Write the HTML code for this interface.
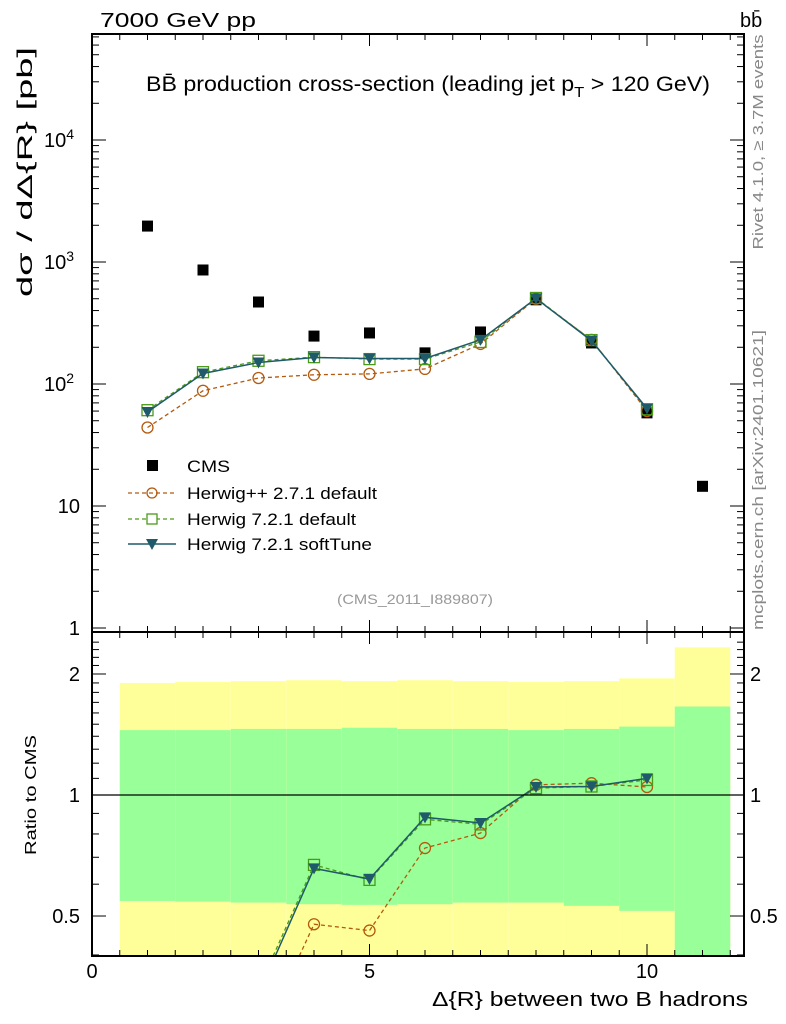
<!DOCTYPE html>
<html><head><meta charset="utf-8"><style>
html,body{margin:0;background:#fff;width:786px;height:1024px;overflow:hidden;}
svg{display:block;font-family:"Liberation Sans",sans-serif;}
</style></head><body>
<svg id="c" width="786" height="1024" viewBox="0 0 786 1024">
<g id="bands"></g><g id="ratioMarks"></g><g id="mainMarks"></g><g id="axes"></g>
<text x="100" y="27" font-size="20" textLength="156" lengthAdjust="spacingAndGlyphs">7000 GeV pp</text>
<text x="740" y="27" font-size="20">bb̄</text>
<text x="146" y="91" font-size="21" textLength="564" lengthAdjust="spacingAndGlyphs">BB̄ production cross-section (leading jet p<tspan font-size="15" dy="6">T</tspan><tspan dy="-6"> &gt; 120 GeV)</tspan></text>
<text transform="translate(32,172) rotate(-90)" font-size="21" text-anchor="middle" textLength="250" lengthAdjust="spacingAndGlyphs">dσ / dΔ{R} [pb]</text>
<text transform="translate(36,795) rotate(-90)" font-size="16" text-anchor="middle" textLength="120" lengthAdjust="spacingAndGlyphs">Ratio to CMS</text>
<text x="748" y="1006" font-size="20" text-anchor="end" textLength="316" lengthAdjust="spacingAndGlyphs">Δ{R} between two B hadrons</text>
<text transform="translate(763,142) rotate(-90)" font-size="15" fill="#888" text-anchor="middle" textLength="215" lengthAdjust="spacingAndGlyphs">Rivet 4.1.0, ≥ 3.7M events</text>
<text transform="translate(763,480) rotate(-90)" font-size="15" fill="#888" text-anchor="middle" textLength="300" lengthAdjust="spacingAndGlyphs">mcplots.cern.ch [arXiv:2401.10621]</text>
<text x="415" y="604" font-size="14" fill="#999" text-anchor="middle" textLength="156" lengthAdjust="spacingAndGlyphs">(CMS_2011_I889807)</text>
<g font-size="17">
 <rect x="147" y="460" width="11" height="11" fill="#000"/>
 <text x="187" y="472" textLength="43" lengthAdjust="spacingAndGlyphs">CMS</text>
 <line x1="128" y1="493" x2="176" y2="493" stroke="#b35a0e" stroke-width="1.3" stroke-dasharray="4,3"/>
 <circle cx="152" cy="493" r="5" fill="none" stroke="#b35a0e" stroke-width="1.3"/>
 <text x="187" y="499" textLength="190" lengthAdjust="spacingAndGlyphs">Herwig++ 2.7.1 default</text>
 <line x1="128" y1="519" x2="176" y2="519" stroke="#4a9a1a" stroke-width="1.3" stroke-dasharray="4,3"/>
 <rect x="147" y="514" width="10" height="10" fill="#fff" stroke="#4a9a1a" stroke-width="1.3"/>
 <text x="187" y="525" textLength="169" lengthAdjust="spacingAndGlyphs">Herwig 7.2.1 default</text>
 <line x1="128" y1="544" x2="176" y2="544" stroke="#1e5a6a" stroke-width="1.5"/>
 <path d="M146,539 L158,539 L152,550 Z" fill="#1e5a6a"/>
 <text x="187" y="550" textLength="185" lengthAdjust="spacingAndGlyphs">Herwig 7.2.1 softTune</text>
</g>
</svg>
<script>
const xs=[1,2,3,4,5,6,7,8,9,10,11];
const cms=[1970,860,470,247,262,180,267,490,217,58,14.5];
const hpp=[44,88,112,119,121,133,213,500,230,60];
const h7d=[61,125,155,166,160,160,221,507,229,62];
const h7s=[59,122,150,165,162,162,230,503,226,63];
const rHpp=[0.022,0.10,0.24,0.477,0.46,0.738,0.804,1.06,1.07,1.047];
const rH7d=[0.031,0.145,0.33,0.67,0.615,0.87,0.845,1.04,1.05,1.09];
const rH7s=[0.030,0.142,0.32,0.657,0.618,0.88,0.852,1.047,1.05,1.10];
const bandLo=[0.5,1.5,2.5,3.5,4.5,5.5,6.5,7.5,8.5,9.5,10.5];
const bandHi=[1.5,2.5,3.5,4.5,5.5,6.5,7.5,8.5,9.5,10.5,11.5];
const yelTop=[1.90,1.91,1.92,1.93,1.92,1.93,1.92,1.91,1.92,1.95,2.33];
const grnTop=[1.45,1.45,1.46,1.46,1.47,1.46,1.46,1.45,1.46,1.48,1.66];
const grnBot=[0.545,0.543,0.540,0.535,0.533,0.535,0.540,0.540,0.530,0.515,0.3];
const yelBot=[0.3,0.3,0.3,0.3,0.3,0.3,0.3,0.3,0.3,0.3,0.3];
const NS="http://www.w3.org/2000/svg";
const L=92,R=744,T=34,MB=632,RB=956;
const X=v=>L+v*55.5;
const Y=v=>262-(Math.log10(v)-3)*122;
const YRraw=v=>795-402*Math.log10(v);
const YR=v=>Math.min(RB,Math.max(MB,YRraw(v)));
function mk(p,t,a){const e=document.createElementNS(NS,t);for(const k in a)e.setAttribute(k,a[k]);p.appendChild(e);return e;}
const bands=document.getElementById('bands'),rm=document.getElementById('ratioMarks'),mm=document.getElementById('mainMarks'),ax=document.getElementById('axes');
bandLo.forEach((lo,i)=>{
 const y=mk(bands,'rect',{x:X(lo),y:YR(yelTop[i]),width:X(bandHi[i])-X(lo),height:YR(yelBot[i])-YR(yelTop[i]),fill:'#ffff99'});
 
 
 const g=mk(bands,'rect',{x:X(lo),y:YR(grnTop[i]),width:X(bandHi[i])-X(lo),height:YR(grnBot[i])-YR(grnTop[i]),fill:'#99ff99'});
 
 
});
mk(ax,'line',{x1:L,y1:795,x2:R,y2:795,stroke:'#000','stroke-width':1.3});
function clipPts(pts,lim){
 const out=[];
 for(let i=0;i<pts.length;i++){
  const p=pts[i],inside=p[1]<=lim;
  if(i>0){const q=pts[i-1],qin=q[1]<=lim;
   if(inside!==qin){const t=(lim-q[1])/(p[1]-q[1]);out.push([q[0]+t*(p[0]-q[0]),lim]);}}
  if(inside)out.push(p);
 }
 return out;
}
function series(par,vals,yf,col,dash,marker,w,lim){
 const pts=vals.map((v,i)=>[X(xs[i]),yf(v)]);
 const g=mk(par,'g',{});
 const lp=lim?clipPts(pts,lim):pts;
 const pl=mk(g,'polyline',{points:lp.map(p=>p.join(',')).join(' '),fill:'none',stroke:col,'stroke-width':w});
 if(dash)pl.setAttribute('stroke-dasharray',dash);
 
 
 pts.forEach(p=>{if(lim&&p[1]>lim)return;let m;
  if(marker==='c')m=mk(g,'circle',{cx:p[0],cy:p[1],r:5.5,fill:'none',stroke:col,'stroke-width':1.3});
  else if(marker==='s')m=mk(g,'rect',{x:p[0]-5.5,y:p[1]-5.5,width:11,height:11,fill:'none',stroke:col,'stroke-width':1.3});
  else m=mk(g,'path',{d:`M${p[0]-6},${p[1]-5} L${p[0]+6},${p[1]-5} L${p[0]},${p[1]+6} Z`,fill:col});
  
  
 });
}
cms.forEach((v,i)=>{const r=mk(mm,'rect',{x:X(xs[i])-5.5,y:Y(v)-5.5,width:11,height:11,fill:'#000'});
 
 });
series(mm,hpp,Y,'#b35a0e','4,3','c',1.3,0);
series(mm,h7d,Y,'#4a9a1a','4,3','s',1.3,0);
series(mm,h7s,Y,'#1e5a6a',null,'t',1.5,0);
series(rm,rHpp,YRraw,'#b35a0e','4,3','c',1.3,RB);
series(rm,rH7d,YRraw,'#4a9a1a','4,3','s',1.3,RB);
series(rm,rH7s,YRraw,'#1e5a6a',null,'t',1.5,RB);
mk(ax,'rect',{x:L,y:T,width:R-L,height:MB-T,fill:'none',stroke:'#000','stroke-width':2});
mk(ax,'rect',{x:L,y:MB,width:R-L,height:RB-MB,fill:'none',stroke:'#000','stroke-width':2});
for(let v=0;v<=11.5;v+=0.5){const maj=v%5===0,len=maj?12:6;
 [[T,1],[MB,-1],[MB,1],[RB,-1]].forEach(([y,s])=>mk(ax,'line',{x1:X(v),y1:y,x2:X(v),y2:y+s*len,stroke:'#000','stroke-width':1}));}
const xTicks=[0,5,10];
xTicks.forEach(v=>{const t=mk(ax,'text',{x:X(v),y:978,'font-size':20,'text-anchor':'middle'});t.textContent=v;
 
 });
for(let d=0;d<5;d++)for(let k=1;k<10;k++){const v=k*Math.pow(10,d);const y=Y(v);if(y<T||y>MB)continue;const len=k===1?14:7;
 mk(ax,'line',{x1:L,y1:y,x2:L+len,y2:y,stroke:'#000'});mk(ax,'line',{x1:R,y1:y,x2:R-len,y2:y,stroke:'#000'});}
const yTicks=[1,10,100,1000,10000];
const yLab=['1','10','10<tspan font-size="14" dy="-8">2</tspan>','10<tspan font-size="14" dy="-8">3</tspan>','10<tspan font-size="14" dy="-8">4</tspan>'];
yTicks.forEach((v,i)=>{const t=mk(ax,'text',{x:i<2?80:74,y:Y(v)+7,'font-size':20,'text-anchor':'end'});t.innerHTML=yLab[i];
 
 });
for(let v=0.4;v<=2.5;v+=0.1){const y=YRraw(v);if(y<=MB||y>=RB)continue;const maj=Math.abs(v-0.5)<1e-6||Math.abs(v-1)<1e-6||Math.abs(v-2)<1e-6;const len=maj?14:7;
 mk(ax,'line',{x1:L,y1:y,x2:L+len,y2:y,stroke:'#000'});mk(ax,'line',{x1:R,y1:y,x2:R-len,y2:y,stroke:'#000'});}
const rTicks=[0.5,1,2];
rTicks.forEach(v=>{const y=YRraw(v)+7;
 const a=mk(ax,'text',{x:80,y:y,'font-size':20,'text-anchor':'end'});a.textContent=v;
 
 
 const b=mk(ax,'text',{x:750,y:y,'font-size':20});b.textContent=v;
 
 });
</script>
</body></html>
